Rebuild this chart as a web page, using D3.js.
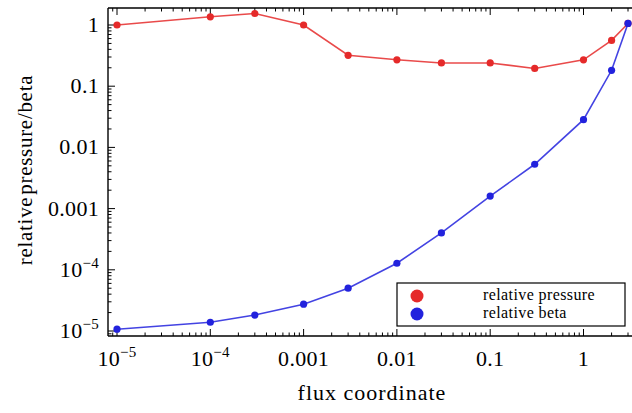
<!DOCTYPE html>
<html>
<head>
<meta charset="utf-8">
<script src="https://cdn.jsdelivr.net/npm/d3@7"></script>
<style>
  body { margin: 0; background: #fff; }
  svg text { font-family: "Liberation Serif", "DejaVu Serif", serif; fill: #000; }
</style>
</head>
<body>
<div id="chart"></div>
<script>
// flux coordinate values
const flux = [1e-5, 1e-4, 3e-4, 1e-3, 3e-3, 0.01, 0.03, 0.1, 0.3, 1, 2, 3];
// relative pressure (red)
const pressure = [1.0, 1.36, 1.54, 1.0, 0.32, 0.27, 0.24, 0.24, 0.195, 0.27, 0.56, 1.06];
// relative beta (blue)
const beta = [1.07e-5, 1.39e-5, 1.82e-5, 2.74e-5, 5.0e-5, 1.28e-4, 4.0e-4, 1.6e-3, 5.3e-3, 0.0284, 0.182, 1.06];

// tick labels: [value, mantissa text, superscript]
const xTicks = [[1e-5, "10", "\u22125"], [1e-4, "10", "\u22124"], [1e-3, "0.001", ""], [0.01, "0.01", ""], [0.1, "0.1", ""], [1, "1", ""]];
const yTicks = [[1, "1", ""], [0.1, "0.1", ""], [0.01, "0.01", ""], [0.001, "0.001", ""], [1e-4, "10", "\u22124"], [1e-5, "10", "\u22125"]];

const legendItems = ["relative pressure", "relative beta"];
const colors = ["#e52a2a", "#2222dd"];

const width = 632, height = 413;
const plotLeft = 108, plotTop = 8, plotBottom = 336, plotRight = 640;

const svg = d3.select("#chart").append("svg")
    .attr("width", width)
    .attr("height", height);

// log scales, calibrated on decade positions
const x = d3.scaleLog().domain([1e-5, 1]).range([117, 583.5]);
const y = d3.scaleLog().domain([1e-5, 1]).range([331, 25]);

// minor ticks per decade
function minorTicks(lo, hi) {
    const out = [];
    for (let e = lo; e < hi; e++) {
        for (let m = 2; m <= 9; m++) out.push(m * Math.pow(10, e));
    }
    return out;
}
const xMinor = minorTicks(-6, 1).filter(v => x(v) > plotLeft && x(v) < width);
const yMinor = minorTicks(-6, 1).filter(v => y(v) > plotTop && y(v) < plotBottom);

const axes = svg.append("g").attr("stroke", "#000").attr("stroke-width", 1.4);

// frame: left, top, bottom
axes.append("line").attr("x1", plotLeft).attr("x2", plotLeft).attr("y1", plotTop).attr("y2", plotBottom);
axes.append("line").attr("x1", plotLeft).attr("x2", plotRight).attr("y1", plotTop).attr("y2", plotTop);
axes.append("line").attr("x1", plotLeft).attr("x2", plotRight).attr("y1", plotBottom).attr("y2", plotBottom);

// x ticks (bottom pointing up, top pointing down)
const tickG = svg.append("g").attr("stroke", "#000").attr("stroke-width", 1);
xTicks.forEach(t => {
    tickG.append("line").attr("x1", x(t[0])).attr("x2", x(t[0])).attr("y1", plotBottom).attr("y2", plotBottom - 7);
    tickG.append("line").attr("x1", x(t[0])).attr("x2", x(t[0])).attr("y1", plotTop).attr("y2", plotTop + 7);
});
xMinor.forEach(v => {
    tickG.append("line").attr("x1", x(v)).attr("x2", x(v)).attr("y1", plotBottom).attr("y2", plotBottom - 3.5);
    tickG.append("line").attr("x1", x(v)).attr("x2", x(v)).attr("y1", plotTop).attr("y2", plotTop + 3.5);
});
// y ticks (pointing right)
yTicks.forEach(t => {
    tickG.append("line").attr("x1", plotLeft).attr("x2", plotLeft + 7).attr("y1", y(t[0])).attr("y2", y(t[0]));
});
yMinor.forEach(v => {
    tickG.append("line").attr("x1", plotLeft).attr("x2", plotLeft + 3.5).attr("y1", y(v)).attr("y2", y(v));
});

// tick labels
function addLabel(g, t) {
    const txt = g.append("text").attr("font-size", 22).attr("letter-spacing", 0.3);
    txt.append("tspan").text(t[1]);
    if (t[2]) txt.append("tspan").attr("font-size", 15).attr("dy", -9).text(t[2]);
    return txt;
}
xTicks.forEach(t => {
    addLabel(svg, t)
        .attr("x", x(t[0]))
        .attr("y", plotBottom + 30)
        .attr("text-anchor", "middle");
});
yTicks.forEach(t => {
    addLabel(svg, t)
        .attr("x", plotLeft - 9)
        .attr("y", y(t[0]) + 7)
        .attr("text-anchor", "end");
});

// axis titles
svg.append("text")
    .attr("x", 372).attr("y", 400)
    .attr("text-anchor", "middle")
    .attr("font-size", 22)
    .attr("letter-spacing", 1)
    .text("flux coordinate");
svg.append("text")
    .attr("transform", "translate(32,170) rotate(-90)")
    .attr("text-anchor", "middle")
    .attr("font-size", 21)
    .attr("letter-spacing", 0.7)
    .attr("word-spacing", -4)
    .text("relative pressure/beta");

// series
const line = d3.line().x(d => x(d[0])).y(d => y(d[1]));
[pressure, beta].forEach((vals, i) => {
    const pts = flux.map((f, j) => [f, vals[j]]);
    svg.append("path")
        .datum(pts)
        .attr("fill", "none")
        .attr("stroke", colors[i])
        .attr("stroke-opacity", 0.85)
        .attr("stroke-width", 1.6)
        .attr("d", line);
    svg.append("g")
        .selectAll("circle")
        .data(pts)
        .join("circle")
        .attr("cx", d => x(d[0]))
        .attr("cy", d => y(d[1]))
        .attr("r", 3.6)
        .attr("fill", colors[i]);
});

// legend
const legend = svg.append("g");
legend.append("rect")
    .attr("x", 397).attr("y", 283)
    .attr("width", 228).attr("height", 43)
    .attr("fill", "#fff")
    .attr("stroke", "#000")
    .attr("stroke-width", 1.2);
legendItems.forEach((name, i) => {
    legend.append("circle")
        .attr("cx", 417).attr("cy", 296 + i * 18)
        .attr("r", 6.5)
        .attr("fill", colors[i]);
    legend.append("text")
        .attr("x", 483).attr("y", 300 + i * 18)
        .attr("font-size", 16)
        .attr("letter-spacing", 0.4)
        .text(name);
});
</script>
</body>
</html>
